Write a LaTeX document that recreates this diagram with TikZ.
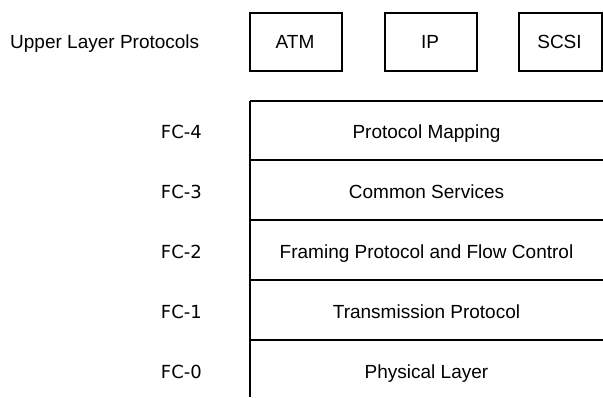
\documentclass[tikz,border=0pt]{standalone}
\usepackage{fontspec}
\setmainfont{Liberation Sans}
\newfontfamily\fcfont{DejaVu Sans}
\begin{document}
\begin{tikzpicture}[x=1pt,y=-1pt,
  line/.style={line width=2.4pt,black},
  proto/.style={draw,line width=2.4pt,minimum width=92pt,minimum height=58pt,inner sep=0pt,anchor=north west},
  boxtext/.style={font=\fontsize{19}{22}\selectfont,inner sep=0pt,anchor=base},
  layertext/.style={font=\fontsize{19}{22}\selectfont,inner sep=0pt,anchor=base},
  fclabel/.style={font=\fcfont\fontsize{18}{22}\selectfont,inner sep=0pt,anchor=base east}]
\useasboundingbox (0,0) rectangle (603,397);
% upper layer protocols
\node[inner sep=0pt,anchor=base west,font=\fontsize{19}{22}\selectfont] (ulp) at (10,48) {Upper Layer Protocols};
\node[proto] (atm) at (249,12) {};
\node[proto] (ip) at (384,12) {};
\node[proto,minimum width=83pt] (scsi) at (518,12) {};
\node[boxtext] (atmt) at (295,48) {ATM};
\node[boxtext] (ipt) at (430,48) {IP};
\node[boxtext] (scsit) at (559.5,48) {SCSI};
% stack
\coordinate (tl) at (250,101);
\coordinate (bl) at (250,397);
\draw[line] (tl) -- (bl);
\foreach \y in {101,160,220,280,340}{
  \draw[line] (250,\y) -- (604,\y);
}
\node[layertext] (fc4t) at (426.5,138) {Protocol Mapping};
\node[layertext] (fc3t) at (426.5,198) {Common Services};
\node[layertext] (fc2t) at (426.5,258) {Framing Protocol and Flow Control};
\node[layertext] (fc1t) at (426.5,318) {Transmission Protocol};
\node[layertext] (fc0t) at (426.5,378) {Physical Layer};
\node[fclabel] (fc4) at (202,138) {FC-4};
\node[fclabel] (fc3) at (202,198) {FC-3};
\node[fclabel] (fc2) at (202,258) {FC-2};
\node[fclabel] (fc1) at (202,318) {FC-1};
\node[fclabel] (fc0) at (202,378) {FC-0};
\end{tikzpicture}
\end{document}
